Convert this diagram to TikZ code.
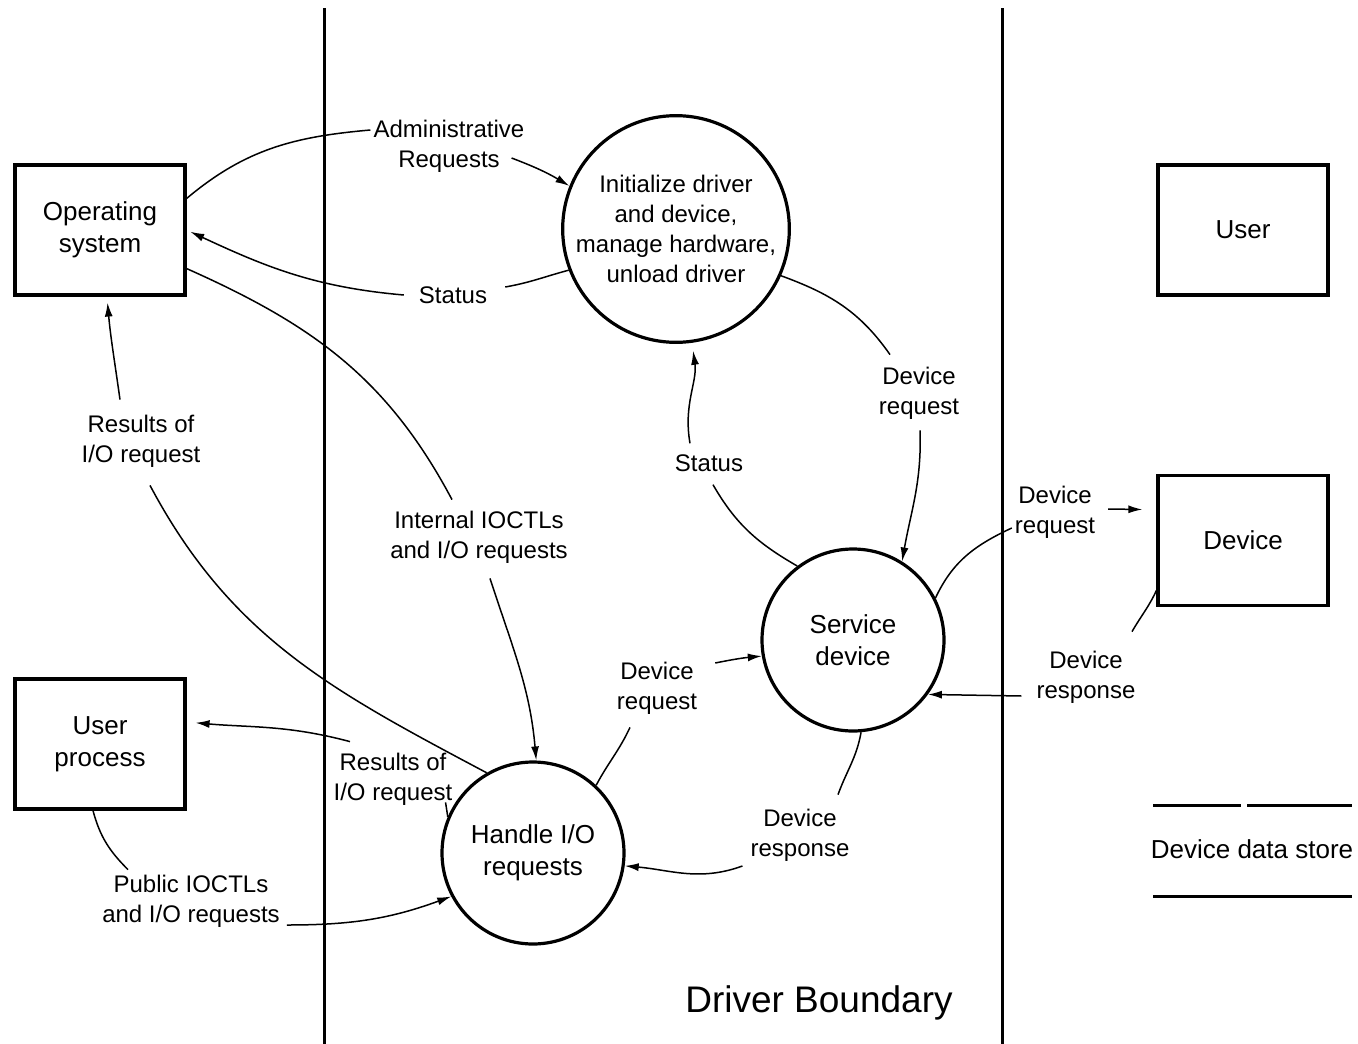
\documentclass[tikz,border=0pt]{standalone}
\usepackage{fontspec}
\setmainfont{Liberation Sans}
\usetikzlibrary{arrows.meta}
\begin{document}
\begin{tikzpicture}[x=1pt,y=-1pt,
  box/.style={draw,line width=3.2pt,minimum width=170pt,minimum height=130pt,inner sep=0pt,align=center,font=\fontsize{26}{32}\selectfont},
  proc/.style={draw,circle,line width=3.2pt,inner sep=0pt,align=center,font=\fontsize{26}{32}\selectfont},
  lbl/.style={align=center,inner sep=3pt,font=\fontsize{24}{30}\selectfont},
  flow/.style={line width=1.5pt},
  arr/.style={flow,-{Latex[length=14pt,width=8pt]}},
  bound/.style={line width=3pt},
  store/.style={line width=3pt}]
\useasboundingbox (0,0) rectangle (1358,1044);
\fill[white] (0,0) rectangle (1358,1044);

% boundaries
\draw[bound] (324,8) -- (324,1044);
\draw[bound] (1002,8) -- (1002,1044);

% external entities
\node[box] (os) at (100,230) {Operating\\system};
\node[box] (user) at (1243,230) {User};
\node[box] (dev) at (1243,540.5) {Device};
\node[box] (up) at (100,744) {User\\process};

% processes
\node[proc,minimum size=216pt,font=\fontsize{24}{30}\selectfont] (c1) at (676,229) {Initialize driver\\and device,\\manage hardware,\\unload driver};
\node[proc,minimum size=182pt] (c2) at (853,640) {Service\\device};
\node[proc,minimum size=182pt] (c3) at (533,853) {Handle I/O\\requests};

% labels
\node[lbl] (lAdm) at (449,146) {Administrative\\Requests};
\node[lbl] (lSt1) at (453,295) {Status};
\node[lbl] (lInt) at (479,537) {Internal IOCTLs\\and I/O requests};
\node[lbl] (lRes1) at (141,441) {Results of\\I/O request};
\node[lbl] (lRes2) at (393,779) {Results of\\I/O request};
\node[lbl] (lPub) at (191,901) {Public IOCTLs\\and I/O requests};
\node[lbl] (lDr1) at (657,688) {Device\\request};
\node[lbl] (lDresp1) at (800,835) {Device\\response};
\node[lbl] (lSt2) at (709,463) {Status};
\node[lbl] (lDr2) at (919,393) {Device\\request};
\node[lbl] (lDr3) at (1055,512) {Device\\request};
\node[lbl] (lDresp2) at (1086,677) {Device\\response};

\node[font=\fontsize{37}{44}\selectfont,inner sep=0pt] (title) at (819,1003) {Driver Boundary};

% data store
\draw[store] (1153,805) -- (1241,805);
\draw[store] (1247,805) -- (1352,805);
\draw[store] (1153,896) -- (1352,896);
\node[font=\fontsize{26}{32}\selectfont,inner sep=0pt] (ds) at (1252,849) {Device data store};

% connectors
\draw[flow] (os.20) to[out=40,in=185] ([yshift=16]lAdm.west);
\draw[arr] ([xshift=-16,yshift=-12]lAdm.east) to[bend left=5] (c1.158);

\draw[flow] (c1.201) to[out=195,in=10] ([xshift=15,yshift=8]lSt1.east);
\draw[arr,shorten >=4pt] ([xshift=-12]lSt1.west) to[out=175,in=-25] (os.east);

\draw[flow] (os.-24) to[out=-24,in=118] ([xshift=-27,yshift=8]lInt.north);
\draw[arr] ([xshift=11,yshift=-12]lInt.south) to[out=-72,in=95] (c3.88);

\draw[flow] (c3.120) to[out=152,in=-62] ([xshift=9,yshift=-15]lRes1.south);
\draw[arr,shorten >=6pt] ([xshift=-21,yshift=12]lRes1.north) to[out=98,in=-85] ([xshift=7]os.south);

\draw[flow] (c3.157) -- ([xshift=-10,yshift=6]lRes2.south east);
\draw[arr,shorten >=9pt] ([xshift=-43,yshift=8]lRes2.north) to[out=165,in=-5] ([yshift=22]up.east);

\draw[flow] ([xshift=-7]up.south) to[out=-75,in=135] ([xshift=-63,yshift=2]lPub.north);
\draw[arr] ([xshift=4,yshift=-24]lPub.east) to[out=0,in=200] (c3.208);

\draw[flow] (c3.47) to[out=62,in=-115] ([xshift=-27,yshift=-10]lDr1.south);
\draw[arr] ([xshift=15,yshift=25]lDr1.east) to[bend left=3] (c2.190);

\draw[flow] (c2.-85) to[out=-100,in=70] ([xshift=38,yshift=11]lDresp1.north);
\draw[arr] ([xshift=-5,yshift=-31]lDresp1.west) to[out=200,in=-5] (c3.-8);

\draw[flow] (c2.127) to[out=150,in=-60] ([xshift=4,yshift=-10]lSt2.south);
\draw[arr,shorten >=8pt] ([xshift=-19,yshift=8]lSt2.north) to[out=100,in=-82] (c1.-82);

\draw[flow] (c1.-24) to[out=-20,in=125] ([xshift=-29,yshift=9]lDr2.north);
\draw[arr] ([xshift=1,yshift=-8]lDr2.south) to[out=-88,in=80] (c2.58);

\draw[flow] (c2.27) to[out=65,in=-155] ([yshift=-16]lDr3.west);
\draw[arr] ([xshift=10,yshift=3]lDr3.east) -- ([xshift=-14,yshift=31]dev.west);

\draw[flow] ([yshift=-50]dev.west) to[out=-115,in=60] ([xshift=46,yshift=16]lDresp2.north);
\draw[arr] ([xshift=-12,yshift=-19]lDresp2.west) -- (c2.-36);
\end{tikzpicture}
\end{document}
